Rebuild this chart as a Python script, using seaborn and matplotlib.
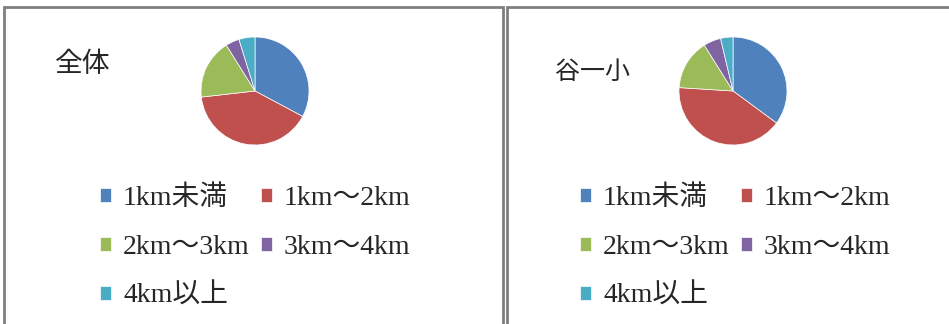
import matplotlib
matplotlib.use("Agg")
import matplotlib.pyplot as plt
import matplotlib.patches as mpatches
import seaborn as sns

sns.set_theme(style="white")
plt.rcParams['font.family'] = ['Liberation Serif', 'Noto Sans CJK JP', 'DejaVu Sans']

# データ
categories = ["1km未満", "1km～2km", "2km～3km", "3km～4km", "4km以上"]
zentai = [32.8, 40.4, 17.9, 4.1, 4.8]
yaichi = [35.1, 40.9, 15.1, 5.2, 3.7]
titles = ["全体", "谷一小"]
colors = sns.color_palette(["#4F81BD", "#C0504D", "#9BBB59", "#8064A2", "#4BACC6"])

W, H = 949, 324
fig = plt.figure(figsize=(W / 100, H / 100), dpi=100)


def fx(px):
    return px / W


def fy(py):
    return 1 - py / H


# パネル枠
for x0, x1 in [(4, 503), (507, 960)]:
    fig.patches.append(mpatches.Rectangle((fx(x0), fy(340)), fx(x1 - x0), (340 - 7) / H,
                                          transform=fig.transFigure, fill=False,
                                          edgecolor="#7f7f7f", linewidth=2))

panels = [
    dict(vals=zentai, title=titles[0], cx=255, cy=91, r=54, tx=55, ty=65, ts=20, lx=100),
    dict(vals=yaichi, title=titles[1], cx=733, cy=91, r=54, tx=555, ty=73, ts=18, lx=580),
]

order = [0, 2, 4, 1, 3]  # 横方向に並べる
for p in panels:
    ax = fig.add_axes([fx(p["cx"] - p["r"]), fy(p["cy"] + p["r"]), fx(2 * p["r"]), 2 * p["r"] / H])
    wedges, _ = ax.pie(p["vals"], colors=colors, startangle=90, counterclock=False,
                       wedgeprops=dict(edgecolor="white", linewidth=0.5))
    ax.set_xlim(-1, 1)
    ax.set_ylim(-1, 1)
    ax.axis("off")
    fig.text(fx(p["tx"]), fy(p["ty"]), p["title"], fontsize=p["ts"], va="center", ha="left")
    fig.legend([wedges[i] for i in order], [categories[i] for i in order],
               ncol=2, loc="upper left", bbox_to_anchor=(fx(p["lx"]), fy(185)),
               frameon=False, fontsize=20, borderpad=0, borderaxespad=0,
               handlelength=0.4, handleheight=0.4, handletextpad=0.43,
               labelspacing=0.86, columnspacing=0.4)

fig.savefig("out.png", dpi=100)
